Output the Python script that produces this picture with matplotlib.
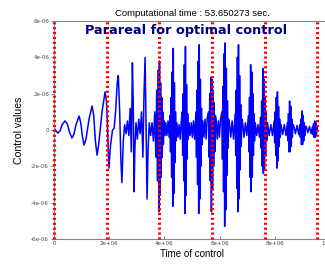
import numpy as np
import matplotlib
matplotlib.use('Agg')
import matplotlib.pyplot as plt
from matplotlib.ticker import FuncFormatter

# time in units of 1e6, control in units of 1e-6
t_seg1 = [0.00, 0.05, 0.14, 0.22, 0.30, 0.40, 0.48, 0.56, 0.65, 0.72, 0.80, 0.91, 0.97,
          1.03, 1.09, 1.16, 1.27, 1.38, 1.44, 1.50, 1.56, 1.62, 1.74, 1.85, 1.90]
u_seg1 = [0.15, 0.0, -0.17, -0.05, 0.30, 0.50, 0.35, -0.10, -0.44, -0.25, 0.30, 0.77, 0.40,
          -0.35, -0.83, -0.50, 0.60, 1.32, 0.80, -0.60, -1.38, -0.80, 1.00, 2.10, 1.60]

t_seg2 = [1.93, 1.99, 2.05, 2.12, 2.18, 2.24, 2.29, 2.33, 2.38, 2.42, 2.46, 2.51, 2.56, 2.61,
          2.66, 2.71, 2.76, 2.80, 2.84, 2.87, 2.90, 2.93, 2.97, 3.02, 3.07, 3.12, 3.17, 3.22,
          3.26, 3.30, 3.33, 3.37, 3.41, 3.45, 3.50, 3.55, 3.60, 3.65, 3.69, 3.72, 3.75, 3.78]
u_seg2 = [0.5, -2.1, -0.8, 0.0, 0.1, 1.2, 2.6, 3.0, 1.0, -1.5, -2.9, -0.6, 0.3, -0.2,
          0.5, -0.3, 1.2, -1.2, 3.7, 1.5, -3.4, -1.0, 0.4, -0.5, 0.6, -0.2, 1.0, -1.5,
          2.0, 4.0, 0.5, -3.8, -1.0, 0.4, -0.3, 0.4, -0.6, 1.0, -1.5, 2.2, -2.8, 3.3]

t_seg3 = [3.80, 3.82, 3.84, 3.86, 3.88, 3.90, 3.92, 3.94, 3.96, 3.99, 4.02,
          4.05, 4.09, 4.13, 4.17,
          4.20, 4.22, 4.24, 4.26, 4.28, 4.30, 4.32, 4.34, 4.36, 4.38, 4.40, 4.42,
          4.45, 4.49, 4.53, 4.57, 4.61,
          4.64, 4.66, 4.68, 4.70, 4.72, 4.74, 4.76, 4.78, 4.80, 4.82, 4.84, 4.86,
          4.89, 4.93, 4.97, 5.01, 5.05, 5.09,
          5.14, 5.16, 5.18, 5.20, 5.22, 5.24, 5.26, 5.28, 5.30, 5.32, 5.34, 5.36,
          5.39, 5.43, 5.47, 5.51, 5.55,
          5.60, 5.62, 5.64, 5.66, 5.68, 5.70, 5.72, 5.74, 5.76, 5.78, 5.80, 5.82, 5.84]
u_seg3 = [-4.5, 3.8, -3.6, 2.6, -2.6, 1.8, -1.5, 1.0, -0.8, 0.5, -0.3,
          0.4, -0.3, 0.5, -0.4,
          0.8, -1.2, 1.8, -2.6, 3.2, -4.2, 4.5, -3.5, 2.6, -1.8, 1.0, -0.6,
          0.4, -0.4, 0.3, -0.5, 0.5,
          1.0, -1.4, 2.0, -2.8, 3.6, -4.6, 4.6, -3.6, 2.5, -1.6, 0.9, -0.5,
          0.4, -0.3, 0.4, -0.4, 0.5, -0.5,
          1.0, -1.5, 2.2, -3.0, 3.8, -4.6, 4.7, -3.8, 2.8, -2.0, 1.2, -0.8,
          0.5, -0.4, 0.6, -0.5, 0.7,
          1.0, -1.5, 2.0, -2.8, 2.9, -4.5, 2.8, -3.2, 2.2, -2.0, 1.5, -1.2, 0.8]

t_seg4 = [5.87, 5.91, 5.95, 5.99, 6.03,
          6.08, 6.10, 6.12, 6.14, 6.16, 6.18, 6.20, 6.22, 6.24, 6.26, 6.28, 6.30, 6.32,
          6.35, 6.40, 6.45, 6.50,
          6.56, 6.58, 6.60, 6.62, 6.64, 6.66, 6.68, 6.70, 6.72, 6.74, 6.76, 6.78, 6.80,
          6.83, 6.88, 6.93, 6.98,
          7.04, 7.06, 7.08, 7.10, 7.12, 7.14, 7.16, 7.18, 7.20, 7.22, 7.24, 7.26,
          7.29, 7.34, 7.39, 7.44,
          7.48, 7.50, 7.52, 7.54, 7.56, 7.58, 7.60, 7.62, 7.64, 7.66, 7.68, 7.70]
u_seg4 = [0.6, -0.5, 0.5, -0.4, 0.6,
          1.0, -1.6, 2.4, -3.4, 4.2, -5.3, 4.8, -4.4, 3.4, -2.5, 1.6, -1.0, 0.6,
          0.4, -0.4, 0.5, -0.5,
          0.9, -1.4, 2.2, -3.2, 4.0, -4.5, 4.7, -3.8, 3.0, -2.2, 1.4, -0.9, 0.6,
          0.4, -0.4, 0.4, -0.3,
          0.8, -1.2, 1.8, -2.6, 3.6, -3.4, 3.2, -2.6, 2.0, -1.4, 0.9, -0.6,
          0.4, -0.3, 0.3, -0.4,
          0.7, -1.0, 1.6, -2.0, 3.4, -2.4, 2.8, -2.2, 1.8, -1.4, 1.0, -0.6]

t_seg5 = [7.73, 7.79, 7.85, 7.91,
          7.97, 7.99, 8.01, 8.03, 8.05, 8.07, 8.09, 8.11, 8.13, 8.15, 8.17, 8.19,
          8.22, 8.28, 8.34, 8.40,
          8.45, 8.47, 8.49, 8.51, 8.53, 8.55, 8.57, 8.59, 8.61, 8.63, 8.65,
          8.68, 8.74, 8.80, 8.86,
          8.90, 8.92, 8.94, 8.96, 8.98, 9.00, 9.02, 9.04, 9.06, 9.08, 9.10,
          9.13, 9.19, 9.25, 9.31,
          9.36, 9.38, 9.40, 9.42, 9.44, 9.46, 9.48, 9.50, 9.52, 9.53]
u_seg5 = [0.4, -0.3, 0.3, -0.3,
          0.5, -0.7, 1.0, -1.4, 1.8, -2.1, 2.1, -1.7, 1.3, -0.9, 0.6, -0.4,
          0.3, -0.25, 0.3, -0.3,
          0.4, -0.6, 0.9, -1.2, 1.6, -1.2, 1.3, -0.9, 0.6, -0.4, 0.3,
          0.25, -0.2, 0.25, -0.25,
          0.3, -0.4, 0.6, -0.8, 1.05, -0.8, 0.8, -0.6, 0.4, -0.3, 0.2,
          0.2, -0.15, 0.2, -0.2,
          0.2, -0.25, 0.35, -0.4, 0.5, -0.4, 0.4, -0.3, 0.2, 0.0]

# parareal interval boundaries (units of 1e6)
boundaries = [0.0, 1.906, 3.812, 5.718, 7.624, 9.53]

t = np.array(t_seg1 + t_seg2 + t_seg3 + t_seg4 + t_seg5) * 1e6
u = np.array(u_seg1 + u_seg2 + u_seg3 + u_seg4 + u_seg5) * 1e-6

fig = plt.figure(figsize=(3.25, 2.67), dpi=100)
ax = fig.add_axes([0.166, 0.105, 0.85, 0.816])

ax.plot(t, u, color='#0000ff', lw=1.1)
for b in boundaries:
    ax.plot([b * 1e6, b * 1e6], [-6e-6, 6e-6], color='red', lw=2.2,
            linestyle=(0, (0.7, 0.9)), clip_on=False, zorder=3)

ax.set_xlim(0, 1e7)
ax.set_ylim(-6e-6, 6e-6)
ax.set_xticks([0, 2e6, 4e6, 6e6, 8e6, 1e7])
ax.set_yticks([-6e-6, -4e-6, -2e-6, 0, 2e-6, 4e-6, 6e-6])
fmt = FuncFormatter(lambda v, p: '%g' % v)
ax.xaxis.set_major_formatter(fmt)
ax.yaxis.set_major_formatter(fmt)
ax.tick_params(labelsize=4, colors='#444444', length=2, width=0.5, pad=1.5)
ax.tick_params(axis='x', direction='in')
for s in ax.spines.values():
    s.set_color('#888888')
    s.set_linewidth(0.8)

ax.set_xlabel('Time of control', fontsize=7, family='Liberation Sans', labelpad=2)
ax.set_ylabel('Control values', fontsize=7.6, family='Liberation Sans', labelpad=5)
ax.set_title('Computational time : 53.650273 sec.', fontsize=6.8,
             family='Liberation Sans', pad=4)
ax.text(0.48, 0.955, 'Parareal for optimal control', transform=ax.transAxes,
        ha='center', va='center', fontsize=9.3, fontweight='bold', color='#000080',
        family='DejaVu Sans', zorder=5)

fig.savefig('out.png', dpi=100)
